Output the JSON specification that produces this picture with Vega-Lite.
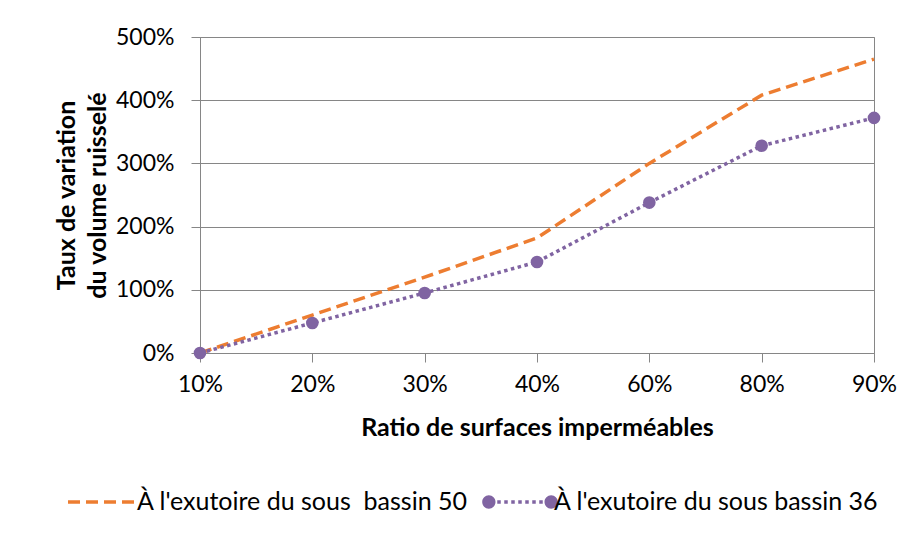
{
  "$schema": "https://vega.github.io/schema/vega-lite/v6.json",
  "width": 674,
  "height": 316,
  "autosize": "none",
  "padding": {"left": 200, "top": 37, "right": 37, "bottom": 184},
  "background": "white",
  "config": {
    "font": "Lato",
    "view": {"stroke": "#868686", "strokeWidth": 1},
    "axis": {
      "labelFont": "Lato",
      "labelFontSize": 23,
      "labelColor": "#000000",
      "titleFont": "Lato",
      "titleFontSize": 25,
      "titleFontWeight": "bold",
      "titleColor": "#000000",
      "domainColor": "#868686",
      "tickColor": "#868686",
      "gridColor": "#868686",
      "gridOpacity": 1,
      "tickSize": 9
    }
  },
  "data": {
    "values": [
      {"ratio": "10%", "serie": "À l'exutoire du sous \u00a0bassin 50", "taux": 0.0},
      {"ratio": "20%", "serie": "À l'exutoire du sous \u00a0bassin 50", "taux": 0.6},
      {"ratio": "30%", "serie": "À l'exutoire du sous \u00a0bassin 50", "taux": 1.2},
      {"ratio": "40%", "serie": "À l'exutoire du sous \u00a0bassin 50", "taux": 1.82},
      {"ratio": "60%", "serie": "À l'exutoire du sous \u00a0bassin 50", "taux": 3.0},
      {"ratio": "80%", "serie": "À l'exutoire du sous \u00a0bassin 50", "taux": 4.08},
      {"ratio": "90%", "serie": "À l'exutoire du sous \u00a0bassin 50", "taux": 4.65},
      {"ratio": "10%", "serie": "À l'exutoire du sous bassin 36", "taux": 0.0},
      {"ratio": "20%", "serie": "À l'exutoire du sous bassin 36", "taux": 0.475},
      {"ratio": "30%", "serie": "À l'exutoire du sous bassin 36", "taux": 0.95},
      {"ratio": "40%", "serie": "À l'exutoire du sous bassin 36", "taux": 1.44},
      {"ratio": "60%", "serie": "À l'exutoire du sous bassin 36", "taux": 2.38},
      {"ratio": "80%", "serie": "À l'exutoire du sous bassin 36", "taux": 3.28},
      {"ratio": "90%", "serie": "À l'exutoire du sous bassin 36", "taux": 3.72}
    ]
  },
  "encoding": {
    "x": {
      "field": "ratio",
      "type": "ordinal",
      "sort": ["10%", "20%", "30%", "40%", "60%", "80%", "90%"],
      "scale": {"type": "point", "padding": 0},
      "axis": {
        "title": "Ratio de surfaces imperméables",
        "labelAngle": 0,
        "labelPadding": 11,
        "titlePadding": 19,
        "grid": false
      }
    },
    "y": {
      "field": "taux",
      "type": "quantitative",
      "scale": {"domain": [0, 5], "nice": false},
      "axis": {
        "title": ["Taux de variation", "du volume ruisselé"],
        "format": ".0%",
        "values": [0, 1, 2, 3, 4, 5],
        "labelPadding": 17,
        "titlePadding": 5,
        "titleLineHeight": 31,
        "grid": true
      }
    }
  },
  "layer": [
    {
      "mark": {"type": "line", "strokeWidth": 3.5, "strokeCap": "butt"},
      "encoding": {
        "color": {
          "field": "serie",
          "type": "nominal",
          "scale": {
            "domain": ["À l'exutoire du sous \u00a0bassin 50", "À l'exutoire du sous bassin 36"],
            "range": ["#ED7D31", "#8064A2"]
          },
          "legend": {
            "title": null,
            "orient": "none",
            "direction": "horizontal",
            "legendX": -134,
            "legendY": 428,
            "symbolType": "stroke",
            "symbolSize": 4900,
            "symbolStrokeWidth": 3.5,
            "labelFont": "Lato",
            "labelFontSize": 25,
            "labelColor": "#000000",
            "labelOffset": -3,
            "columnPadding": 14,
            "labelLimit": 500,
            "encode": {
              "symbols": {
                "update": {
                  "shape": [
                    {"test": "datum.value === 'À l\\'exutoire du sous bassin 36'", "value": "M-0.7,0A0.19,0.19,0,1,1,-1.08,0A0.19,0.19,0,1,1,-0.7,0ZM1.08,0A0.19,0.19,0,1,1,0.7,0A0.19,0.19,0,1,1,1.08,0ZM-0.65,-0.05h0.1v0.1h-0.1ZM-0.45,-0.05h0.1v0.1h-0.1ZM-0.25,-0.05h0.1v0.1h-0.1ZM-0.05,-0.05h0.1v0.1h-0.1ZM0.15,-0.05h0.1v0.1h-0.1ZM0.35,-0.05h0.1v0.1h-0.1ZM0.55,-0.05h0.1v0.1h-0.1Z"},
                    {"value": "stroke"}
                  ],
                  "strokeDash": [
                    {"test": "datum.value === 'À l\\'exutoire du sous bassin 36'", "value": [1, 0]},
                    {"value": [12, 6]}
                  ],
                  "strokeOpacity": [
                    {"test": "datum.value === 'À l\\'exutoire du sous bassin 36'", "value": 0},
                    {"value": 1}
                  ],
                  "fill": [
                    {"test": "datum.value === 'À l\\'exutoire du sous bassin 36'", "value": "#8064A2"},
                    {"value": "transparent"}
                  ],
                  "fillOpacity": {"value": 1}
                }
              }
            }
          }
        },
        "strokeDash": {
          "field": "serie",
          "type": "nominal",
          "scale": {
            "domain": ["À l'exutoire du sous \u00a0bassin 50", "À l'exutoire du sous bassin 36"],
            "range": [[12, 6], [3.5, 3.5]]
          },
          "legend": null
        }
      }
    },
    {
      "transform": [{"filter": "datum.serie === 'À l\\'exutoire du sous bassin 36'"}],
      "mark": {"type": "circle", "size": 160, "opacity": 1, "color": "#8064A2"}
    }
  ]
}
